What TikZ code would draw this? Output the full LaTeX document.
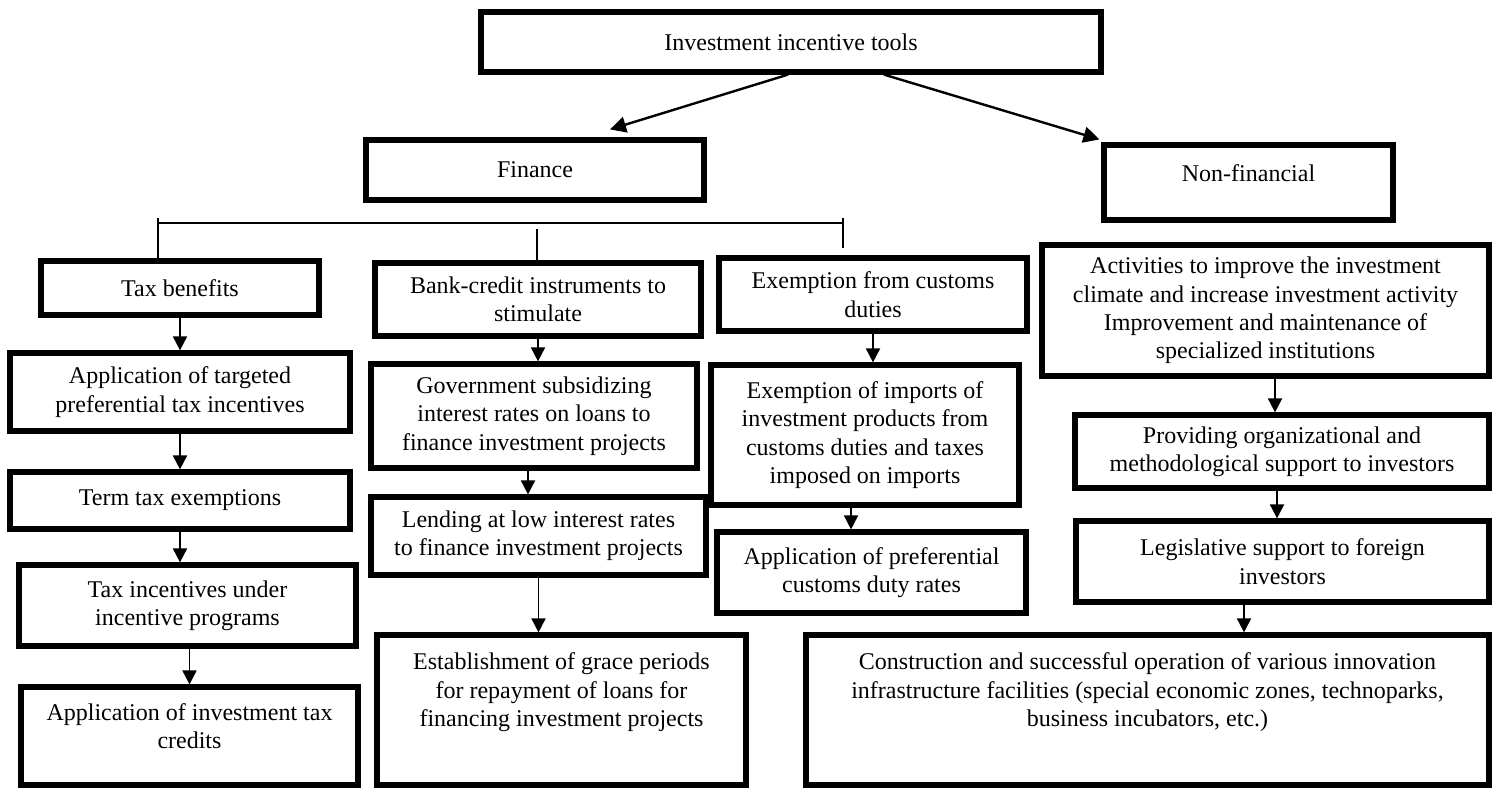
\documentclass[tikz,border=0pt]{standalone}
\usepackage{fontspec}
\setmainfont{Liberation Serif}
\usetikzlibrary{arrows.meta,calc}
\begin{document}
\begin{tikzpicture}[x=0.5pt,y=-0.5pt,
  box/.style={draw, line width=2.6pt, inner sep=0pt, align=center,
    font=\fontsize{12}{14.2}\selectfont},
  arr/.style={-{Triangle[width=7pt,length=7pt]}, line width=0.9pt},
  darr/.style={-{Triangle[width=8pt,length=8pt]}, line width=1.2pt},
  brk/.style={line width=0.6pt}]
\useasboundingbox (0,0) rectangle (1492,788);

% top level
\node[box, minimum width=310pt, minimum height=30pt] (top) at (791,42) {Investment incentive tools};
\node[box, minimum width=169pt, minimum height=30pt] (fin) at (535,170) {Finance};
\node[box, minimum width=144.5pt, minimum height=37.5pt] (nonfin) at (1248.5,182.5) {Non-financial\\[-5pt]\mbox{}};

% left column
\node[box, minimum width=139pt, minimum height=27pt] (tax) at (180,288) {Tax benefits};
\node[box, minimum width=170pt, minimum height=39pt] (tt) at (180,392) {Application of targeted\\preferential tax incentives};
\node[box, minimum width=170pt, minimum height=28.5pt] (term) at (180,500.5) {Term tax exemptions};
\node[box, minimum width=168.5pt, minimum height=40.5pt] (ti) at (187.5,605.5) {Tax incentives under\\incentive programs};
\node[box, minimum width=168.5pt, minimum height=49pt] (itc) at (189.5,736) {Application of investment tax\\credits\\[-4pt]\mbox{}};

% second column
\node[box, minimum width=163pt, minimum height=36.5pt] (bank) at (538,299.5) {Bank-credit instruments to\\stimulate};
\node[box, minimum width=163pt, minimum height=52pt] (gov) at (534,416) {Government subsidizing\\interest rates on loans to\\finance investment projects};
\node[box, minimum width=167.5pt, minimum height=39pt] (lend) at (538.5,536) {Lending at low interest rates\\to finance investment projects};
\node[box, minimum width=184.5pt, minimum height=75pt] (grace) at (561.5,710) {Establishment of grace periods\\for repayment of loans for\\financing investment projects\\[6pt]\mbox{}};

% third column
\node[box, minimum width=154pt, minimum height=36.5pt] (exc) at (873,294.5) {Exemption from customs\\duties};
\node[box, minimum width=154pt, minimum height=70pt] (eimp) at (865,435) {Exemption of imports of\\investment products from\\customs duties and taxes\\imposed on imports};
\node[box, minimum width=154.5pt, minimum height=40.5pt] (pref) at (871.5,572.5) {Application of preferential\\customs duty rates};

% right column
\node[box, minimum width=223.5pt, minimum height=65.5pt] (act) at (1265.5,310.5) {Activities to improve the investment\\climate and increase investment activity\\Improvement and maintenance of\\specialized institutions};
\node[box, minimum width=207pt, minimum height=36.5pt] (prov) at (1282,451.5) {Providing organizational and\\methodological support to investors};
\node[box, minimum width=206.5pt, minimum height=40.5pt] (leg) at (1282.5,561.5) {Legislative support to foreign\\investors};
\node[box, minimum width=341.5pt, minimum height=75pt] (cons) at (1147.5,710) {Construction and successful operation of various innovation\\infrastructure facilities (special economic zones, technoparks,\\business incubators, etc.)\\[6pt]\mbox{}};

% diagonal arrows
\draw[darr] ([xshift=-1.5pt]top.south) -- ([shift={(37.5pt,4pt)}]fin.north);
\draw[darr] ([xshift=46.5pt]top.south) -- ([shift={(-1pt,1.5pt)}]nonfin.north west);

% bracket
\coordinate (hl) at (158,223);
\coordinate (hr) at (843,223);
\coordinate (bl) at (158,218);
\coordinate (bm) at (537,229);
\coordinate (br) at (843,218);
\coordinate (bre) at (843,248);
\draw[brk] (hl) -- (hr);
\draw[brk] (bl) -- (bl |- tax.north);
\draw[brk] (bm) -- (bm |- bank.north);
\draw[brk] (br) -- (bre);

% vertical arrows
\draw[arr] (tax.south) -- (tt.north);
\draw[arr] (tt.south) -- (term.north);
\draw[arr] (term.south) -- (term.south |- ti.north);
\draw[arr] (itc.north |- ti.south) -- (itc.north);
\draw[arr] (bank.south) -- (bank.south |- gov.north);
\draw[arr] ([xshift=-3pt]gov.south) -- ([xshift=-3pt]gov.south |- lend.north);
\draw[arr] (lend.south) -- (lend.south |- grace.north);
\draw[arr] (exc.south) -- (exc.south |- eimp.north);
\draw[arr] ([xshift=-7pt]eimp.south) -- ([xshift=-7pt]eimp.south |- pref.north);
\draw[arr] ([xshift=4.75pt]act.south) -- ([xshift=4.75pt]act.south |- prov.north);
\draw[arr] ([xshift=-2.5pt]prov.south) -- ([xshift=-2.5pt]prov.south |- leg.north);
\draw[arr] ([xshift=-19.25pt]leg.south) -- ([xshift=-19.25pt]leg.south |- cons.north);
\end{tikzpicture}
\end{document}
